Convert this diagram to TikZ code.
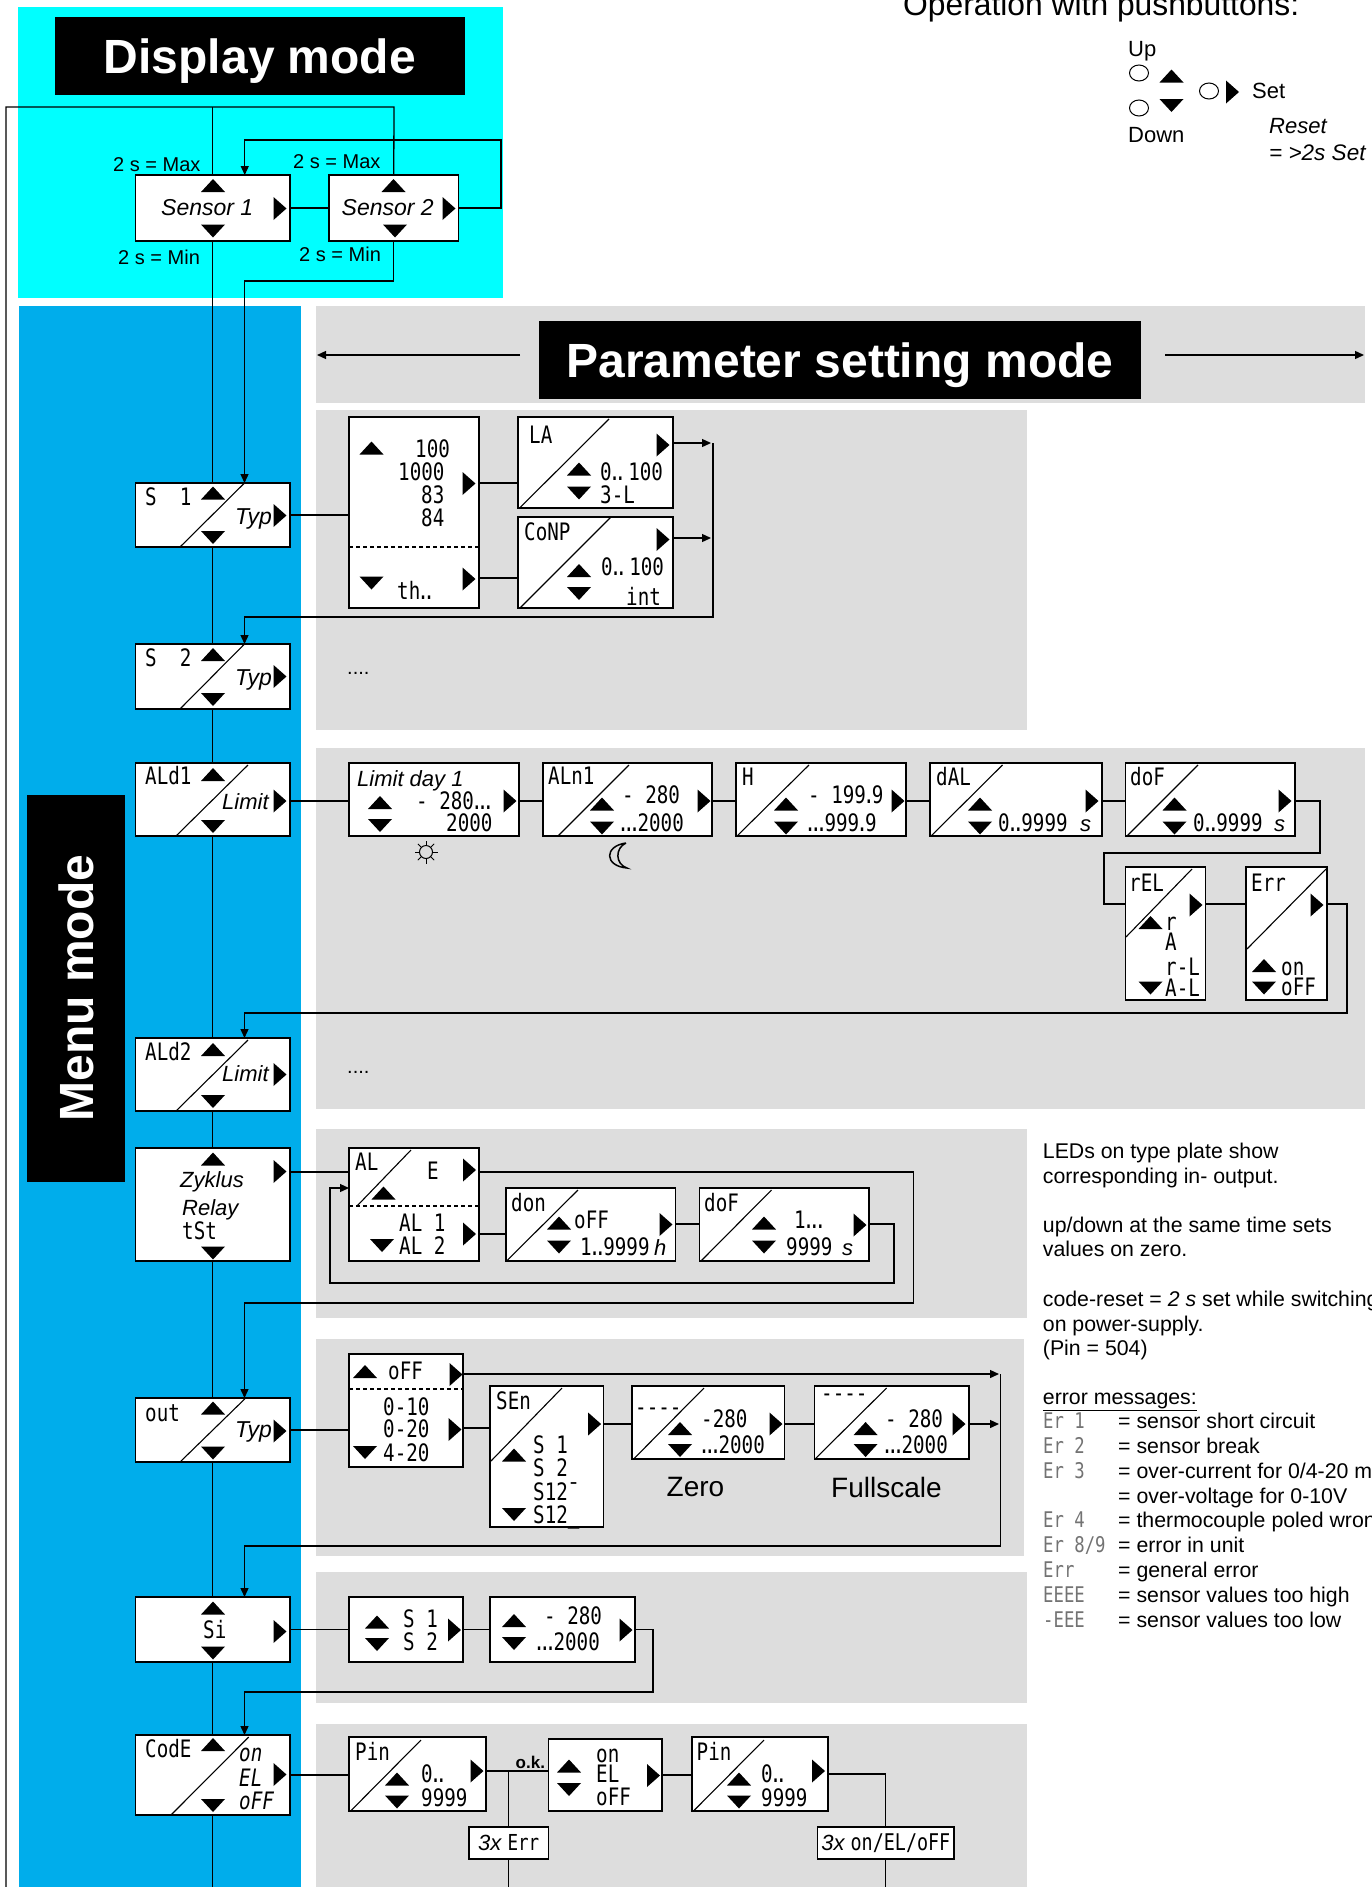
\documentclass[tikz,border=0pt]{standalone}
\usepackage{fontspec}
\setmainfont{Liberation Sans}
\newfontfamily\lcdfont[FakeStretch=0.8]{DejaVu Sans Mono}
\usetikzlibrary{arrows.meta,shapes.geometric}

\definecolor{displaycyan}{RGB}{0,255,255}
\definecolor{menublue}{RGB}{0,173,235}
\definecolor{panelgray}{RGB}{221,221,221}

\newcommand{\segdot}{\kern-.12em.\kern-.12em}
\newcommand{\dotb}{\segdot\segdot}
\newcommand{\dotc}{\segdot\segdot\segdot}
% box from its two corners, in pixels of the sheet
\newcommand{\rbox}[7][]{\node (#3) [#2, minimum width=#6-#4, minimum height=#7-#5] at ({(#4+#6)/2},{(#5+#7)/2}) {#1};}

\tikzset{
  area/.style={inner sep=0, outer sep=0, fill=#1},
  title/.style={inner sep=0, outer sep=0, fill=black, text=white, text height=34pt, text depth=0pt,
    font=\fontsize{48}{48}\selectfont\bfseries},
  disp/.style={draw, fill=white, line width=1.3pt, inner sep=0, outer sep=0},
  wire/.style={line width=1.3pt},
  tip/.style={-{Triangle[length=9pt,width=8pt]}},
  slash/.style={line width=1.1pt},
  sep/.style={line width=1.1pt, dash pattern=on 4pt off 3pt},
  lcd/.style={anchor=west, inner sep=0, text height=17.5pt, text depth=0pt,
    font=\fontsize{24}{24}\lcdfont},
  lcdi/.style={lcd, font=\fontsize{24}{24}\lcdfont\itshape},
  lcdg/.style={anchor=west, inner sep=0, text=black!55, text height=15.5pt, text depth=0pt,
    font=\fontsize{21.6}{22}\lcdfont},
  ital/.style={anchor=west, inner sep=0, text height=16pt, text depth=0pt,
    font=\fontsize{22}{22}\selectfont\itshape},
  lbl/.style={anchor=west, inner sep=0, text height=14.5pt, text depth=0pt,
    font=\fontsize{20}{20}\selectfont},
  txt/.style={anchor=west, inner sep=0, text height=15.5pt, text depth=0pt,
    font=\fontsize{21.3}{22}\selectfont},
  led/.style={draw, ellipse, line width=1pt, minimum width=19, minimum height=16, inner sep=0},
  keyup/.pic={\fill (-12,6.5) -- (12,6.5) -- (0,-6.5) -- cycle;},
  keydn/.pic={\fill (-12,-6.5) -- (12,-6.5) -- (0,6.5) -- cycle;},
  keyset/.pic={\fill (-6.5,-11.5) -- (6.5,0) -- (-6.5,11.5) -- cycle;},
  sun/.pic={\draw [line width=1pt] (0,0) circle (6.5);
    \foreach \a in {0,45,...,315} \draw [line width=1pt] (\a:7) -- (\a:11.5);},
  moon/.pic={\draw [line width=1.5pt] (8,-12) .. controls (-14,-9) and (-14,11) .. (9,13)
    .. controls (-3,9) and (-3,-7) .. (8,-12);}
}

\begin{document}
\begin{tikzpicture}[x=1pt,y=-1pt]
  \useasboundingbox (0,0) rectangle (1372,1887);
  \clip (0,0) rectangle (1372,1887);

  % areas
  \rbox{area=displaycyan}{adisp}{18}{7}{503}{298}
  \rbox{area=menublue}{amenu}{19}{306}{301}{1887}
  \rbox{area=panelgray}{ahead}{316}{306}{1365}{403}
  \rbox{area=panelgray}{apa}{316}{410}{1027}{730}
  \rbox{area=panelgray}{apb}{316}{748}{1365}{1109}
  \rbox{area=panelgray}{apc}{316}{1129}{1027}{1318}
  \rbox{area=panelgray}{apd}{316}{1339}{1024}{1556}
  \rbox{area=panelgray}{ape}{316}{1572}{1027}{1703}
  \rbox{area=panelgray}{apf}{316}{1724}{1027}{1887}
  \rbox[Display mode]{title}{tdisp}{55}{17}{465}{95}
  \rbox[Parameter setting mode]{title}{tpar}{539}{321}{1141}{399}
  \rbox{title}{tmenu}{27}{795}{125}{1182}
  \node (tmenut) [title, fill=none, rotate=90] at (76,988) {Menu mode};

  % push buttons
  \node (opt) [anchor=west, inner sep=0, font=\fontsize{31.8}{32}\selectfont] at (903,7) {Operation with pushbuttons:};
  \node (upt) [ital, font=\fontsize{22}{22}\selectfont] at (1128,48) {Up};
  \node (dnt) [ital, font=\fontsize{22}{22}\selectfont] at (1128,134) {Down};
  \node (sett) [ital, font=\fontsize{22}{22}\selectfont] at (1252,90) {Set};
  \node (rst) [ital] at (1269,125) {Reset};
  \node (rsu) [ital, font=\fontsize{22.5}{22}\selectfont\itshape] at (1269,152) {= >2s Set};
  \node (leda) [led] at (1139,73) {};
  \node (ledb) [led] at (1139,108) {};
  \node (ledc) [led] at (1209,91) {};
  \pic at (1171.5,76) {keyup};
  \pic at (1171.5,105.5) {keydn};
  \pic at (1232.5,92) {keyset};

  % display mode
  \rbox{disp}{sa}{135.5}{175}{290}{241}
  \rbox{disp}{sb}{329}{175}{458.5}{241}
  \node (sat) [ital, font=\fontsize{23}{23}\selectfont\itshape] at (161,207) {Sensor 1};
  \node (sbt) [ital, font=\fontsize{23}{23}\selectfont\itshape] at (341.5,207) {Sensor 2};
  \pic at (213,185.5) {keyup};
  \pic at (213,231) {keydn};
  \pic at (280,208.5) {keyset};
  \pic at (393.5,185.5) {keyup};
  \pic at (395,231) {keydn};
  \pic at (449,208.5) {keyset};
  \node (mxa) [lbl] at (113,164) {2 s = Max};
  \node (mxb) [lbl] at (293,161) {2 s = Max};
  \node (mna) [lbl] at (118,257) {2 s = Min};
  \node (mnb) [lbl] at (299,254) {2 s = Min};

  % menu column
  \rbox{disp}{ms}{135.5}{483}{290}{547}
  \draw [slash] (180,547) -- (244.5,483);
  \node (mst) [lcd] at (145,497) {S~~1};
  \node (msl) [ital, font=\fontsize{23}{23}\selectfont\itshape] at (235,516) {Typ};
  \pic at (213,493) {keyup};
  \pic at (213,537.5) {keydn};
  \pic at (280,515.5) {keyset};

  \rbox{disp}{mt}{135.5}{644}{290}{709}
  \draw [slash] (180,709) -- (244.5,644);
  \node (mtt) [lcd] at (145,658) {S~~2};
  \node (mtl) [ital, font=\fontsize{23}{23}\selectfont\itshape] at (235,677) {Typ};
  \pic at (213,654.5) {keyup};
  \pic at (213,699.5) {keydn};
  \pic at (280,676.5) {keyset};

  \rbox{disp}{mla}{135.5}{763}{290}{836}
  \draw [slash] (176,836) -- (248,765);
  \node (mlat) [lcd] at (145,776) {ALd1};
  \node (mlal) [ital] at (222,801) {Limit};
  \pic at (213,774.5) {keyup};
  \pic at (213,826.5) {keydn};
  \pic at (280,801) {keyset};

  \rbox{disp}{mlb}{135.5}{1038}{290}{1111}
  \draw [slash] (176,1111) -- (248,1040);
  \node (mlbt) [lcd] at (145,1052) {ALd2};
  \node (mlbl) [ital] at (222,1073) {Limit};
  \pic at (213,1049.5) {keyup};
  \pic at (213,1101.5) {keydn};
  \pic at (280,1074.5) {keyset};

  \rbox{disp}{mz}{135.5}{1148}{290}{1261}
  \node (mza) [ital] at (180,1179) {Zyklus};
  \node (mzb) [ital] at (182,1207) {Relay};
  \node (mzc) [lcd] at (182,1231) {tSt};
  \pic at (213,1159) {keyup};
  \pic at (213,1253) {keydn};
  \pic at (280,1171.5) {keyset};

  \rbox{disp}{mo}{135.5}{1398}{290}{1462}
  \draw [slash] (180,1462) -- (245.7,1398);
  \node (mot) [lcd] at (145,1413) {out};
  \node (mol) [ital, font=\fontsize{23}{23}\selectfont\itshape] at (235,1429) {Typ};
  \pic at (213,1408) {keyup};
  \pic at (213,1453) {keydn};
  \pic at (280,1431) {keyset};

  \rbox{disp}{mi}{135.5}{1597}{290}{1662}
  \node (mit) [lcd] at (203,1630) {Si};
  \pic at (213,1608) {keyup};
  \pic at (213,1653) {keydn};
  \pic at (280,1631.5) {keyset};

  \rbox{disp}{mc}{135.5}{1735}{290}{1815}
  \draw [slash] (171,1815) -- (248.7,1737);
  \node (mct) [lcd] at (145,1749) {CodE};
  \node (mca) [lcdi] at (239,1753) {on};
  \node (mcb) [lcdi] at (239,1778) {EL};
  \node (mcc) [lcdi] at (239,1801) {oFF};
  \pic at (213,1744.5) {keyup};
  \pic at (213,1805.5) {keydn};
  \pic at (280,1774.5) {keyset};

  % sensor panel
  \rbox{disp}{pty}{349}{417}{479}{608}
  \draw [sep] (349,547) -- (479,547);
  \node (ptya) [lcd] at (415,449) {100};
  \node (ptyb) [lcd] at (398,472) {1000};
  \node (ptyc) [lcd] at (421,495) {83};
  \node (ptyd) [lcd] at (421,518) {84};
  \node (ptye) [lcd] at (397,591) {th\dotb};
  \pic at (371.5,448) {keyup};
  \pic at (371.5,583) {keydn};
  \pic at (469,483.5) {keyset};
  \pic at (469,579) {keyset};

  \rbox{disp}{pla}{518}{417}{673}{508}
  \draw [slash] (519.6,508) -- (609,419);
  \node (plat) [lcd] at (529,435) {LA};
  \node (plaa) [lcd] at (600,472) {0\dotb\kern5pt 100};
  \node (plab) [lcd] at (600,495) {3-L};
  \pic at (579,469) {keyup};
  \pic at (579,493) {keydn};
  \pic at (663,445) {keyset};

  \rbox{disp}{pcp}{518}{517}{673}{608}
  \draw [slash] (520,608) -- (611,517);
  \node (pcpt) [lcd] at (524,532) {CoNP};
  \node (pcpa) [lcd] at (601,567) {0\dotb\kern5pt 100};
  \node (pcpb) [lcd] at (626,597) {int};
  \pic at (579,570.5) {keyup};
  \pic at (579,593.5) {keydn};
  \pic at (663,539.5) {keyset};
  \node (dta) [anchor=base west, inner sep=0, font=\fontsize{20}{20}\selectfont] at (347,674) {....};

  % limit panel
  \rbox{disp}{pld}{349}{763}{519}{836}
  \node (pldt) [ital] at (357,778) {Limit day 1};
  \node (plda) [lcd] at (416,801) {-~280\dotc};
  \node (pldb) [lcd] at (446,823) {2000};
  \pic at (380,802.5) {keyup};
  \pic at (380,825.5) {keydn};
  \pic at (510,801) {keyset};
  \pic at (426,852) {sun};
  \pic at (618,855) {moon};

  \rbox{disp}{pln}{543}{763}{712}{836}
  \draw [slash] (558,836) -- (629,765);
  \node (plnt) [lcd] at (548,776) {ALn1};
  \node (plna) [lcd] at (622,795) {-~280};
  \node (plnb) [lcd] at (620,823) {\dotc 2000};
  \pic at (602,804) {keyup};
  \pic at (602,828) {keydn};
  \pic at (704,801) {keyset};

  \rbox{disp}{phy}{736}{763}{906}{836}
  \draw [slash] (737,836) -- (809,765);
  \node (phyt) [lcd] at (742,777) {H};
  \node (phya) [lcd] at (808,795) {-~199\segdot 9};
  \node (phyb) [lcd] at (807,823) {\dotc 999\segdot 9};
  \pic at (786,804) {keyup};
  \pic at (786,828) {keydn};
  \pic at (898,801) {keyset};

  \rbox{disp}{pda}{930}{763}{1102}{836}
  \draw [slash] (931,836) -- (1002.5,765);
  \node (pdat) [lcd] at (936,777) {dAL};
  \node (pdaa) [lcd] at (998,823) {0\dotb 9999};
  \node (pdas) [ital] at (1080,823) {s};
  \pic at (980,804) {keyup};
  \pic at (980,828) {keydn};
  \pic at (1092,801) {keyset};

  \rbox{disp}{pdo}{1125.5}{763}{1295}{836}
  \draw [slash] (1127,836) -- (1198,765);
  \node (pdot) [lcd] at (1130,777) {doF};
  \node (pdoa) [lcd] at (1193,823) {0\dotb 9999};
  \node (pdos) [ital] at (1274,823) {s};
  \pic at (1174.5,804) {keyup};
  \pic at (1174.5,828) {keydn};
  \pic at (1285,801) {keyset};

  \rbox{disp}{pre}{1125.5}{867}{1205.5}{1000}
  \draw [slash] (1126,937) -- (1192,869);
  \node (pret) [lcd] at (1129,883) {rEL};
  \node (prea) [lcd] at (1165,922) {r};
  \node (preb) [lcd] at (1165,942) {A};
  \node (prec) [lcd] at (1165,967) {r-L};
  \node (pred) [lcd] at (1165,988) {A-L};
  \pic at (1150.5,922.5) {keyup};
  \pic at (1150.5,988) {keydn};
  \pic at (1196,905) {keyset};

  \rbox{disp}{per}{1246}{867}{1327}{1000}
  \draw [slash] (1247,949) -- (1326,869);
  \node (pert) [lcd] at (1251,883) {Err};
  \node (pera) [lcd] at (1281,967) {on};
  \node (perb) [lcd] at (1281,987) {oFF};
  \pic at (1264,965.5) {keyup};
  \pic at (1264,988) {keydn};
  \pic at (1317,905) {keyset};
  \node (dtb) [anchor=base west, inner sep=0, font=\fontsize{20}{20}\selectfont] at (347,1073) {....};

  % relay panel
  \rbox{disp}{pal}{349}{1148}{479}{1261}
  \draw [slash] (357,1206) -- (411,1150);
  \draw [sep] (349,1206) -- (479,1206);
  \node (palt) [lcd] at (355,1162) {AL};
  \node (pale) [lcd] at (427,1171) {E};
  \node (pala) [lcd] at (399,1223) {AL~1};
  \node (palb) [lcd] at (399,1246) {AL~2};
  \pic at (383.5,1193) {keyup};
  \pic at (382,1245.5) {keydn};
  \pic at (469.5,1170) {keyset};
  \pic at (469.5,1234) {keyset};

  \rbox{disp}{pon}{506}{1188}{675.5}{1261}
  \draw [slash] (506.5,1261) -- (578,1190);
  \node (pont) [lcd] at (511,1203) {don};
  \node (pona) [lcd] at (574,1220) {oFF};
  \node (ponb) [lcd] at (580,1247) {1\dotb 9999};
  \node (ponh) [ital] at (654,1247) {h};
  \pic at (559,1223) {keyup};
  \pic at (559,1247) {keydn};
  \pic at (666,1224.5) {keyset};

  \rbox{disp}{pof}{699.5}{1188}{869}{1261}
  \draw [slash] (701,1261) -- (771.5,1190);
  \node (poft) [lcd] at (704,1203) {doF};
  \node (pofa) [lcd] at (794,1220) {1\dotc};
  \node (pofb) [lcd] at (786,1247) {9999};
  \node (pofs) [ital] at (842,1247) {s};
  \pic at (764,1223) {keyup};
  \pic at (764,1247) {keydn};
  \pic at (860,1225) {keyset};

  % output panel
  \rbox{disp}{pou}{349}{1354}{463}{1467}
  \draw [sep] (349,1389) -- (463,1389);
  \node (poua) [lcd] at (388,1371) {oFF};
  \node (poub) [lcd] at (383,1407) {0-10};
  \node (pouc) [lcd] at (383,1429) {0-20};
  \node (poud) [lcd] at (383,1453) {4-20};
  \pic at (365,1371.5) {keyup};
  \pic at (365,1452.5) {keydn};
  \pic at (456,1374.5) {keyset};
  \pic at (455,1429.5) {keyset};

  \rbox{disp}{pse}{490}{1386}{603.6}{1527}
  \draw [slash] (491,1461) -- (562,1388);
  \node (pset) [lcd] at (496,1401) {SEn};
  \node (psea) [lcd] at (533,1445) {S~1};
  \node (pseb) [lcd] at (533,1468) {S~2};
  \node (psec) [lcd] at (533,1492) {S12¯};
  \node (psed) [lcd] at (533,1515) {S12\_};
  \pic at (514,1455) {keyup};
  \pic at (514,1514.5) {keydn};
  \pic at (594.6,1424) {keyset};

  \rbox{disp}{pze}{632}{1386}{784.6}{1459}
  \draw [slash] (633.6,1459) -- (704,1388);
  \node (pzet) [lcd] at (635,1407) {----};
  \node (pzea) [lcd] at (701,1419) {-280};
  \node (pzeb) [lcd] at (701,1445) {\dotc 2000};
  \pic at (680,1428.5) {keyup};
  \pic at (680,1450.5) {keydn};
  \pic at (776,1424) {keyset};
  \node (pzel) [anchor=west, inner sep=0, font=\fontsize{28}{28}\selectfont] at (666.5,1487) {Zero};

  \rbox{disp}{pfu}{814.6}{1386}{969}{1459}
  \draw [slash] (815,1459) -- (886.6,1388);
  \node (pfut) [lcd] at (821,1393) {----};
  \node (pfua) [lcd] at (885,1419) {-~280};
  \node (pfub) [lcd] at (884,1445) {\dotc 2000};
  \pic at (865.6,1428.5) {keyup};
  \pic at (865.6,1450.5) {keydn};
  \pic at (959,1424) {keyset};
  \node (pful) [anchor=west, inner sep=0, font=\fontsize{28}{28}\selectfont] at (831,1487) {Fullscale};

  % simulation panel
  \rbox{disp}{psi}{349}{1597}{463}{1662}
  \node (psia) [lcd] at (403,1619) {S~1};
  \node (psib) [lcd] at (403,1642) {S~2};
  \pic at (377,1622) {keyup};
  \pic at (377,1644.5) {keydn};
  \pic at (454.5,1630) {keyset};

  \rbox{disp}{prg}{490}{1597}{635}{1662}
  \node (prga) [lcd] at (544,1616) {-~280};
  \node (prgb) [lcd] at (536,1642) {\dotc 2000};
  \pic at (514,1620.5) {keyup};
  \pic at (514,1643.5) {keydn};
  \pic at (626,1630) {keyset};

  % code panel
  \rbox{disp}{ppa}{349}{1737}{486}{1811}
  \draw [slash] (350.6,1811) -- (421,1740);
  \node (ppat) [lcd] at (355,1752) {Pin};
  \node (ppaa) [lcd] at (421,1774) {0\dotb};
  \node (ppab) [lcd] at (421,1798) {9999};
  \pic at (397,1779) {keyup};
  \pic at (397,1802) {keydn};
  \pic at (477,1771) {keyset};

  \rbox{disp}{pcd}{548.5}{1739}{662}{1811}
  \node (pcda) [lcd] at (596,1754) {on};
  \node (pcdb) [lcd] at (596,1774) {EL};
  \node (pcdc) [lcd] at (596,1797) {oFF};
  \pic at (569,1766) {keyup};
  \pic at (569,1789.5) {keydn};
  \pic at (653.5,1775.5) {keyset};

  \rbox{disp}{ppb}{692}{1737}{828}{1811}
  \draw [slash] (693.5,1811) -- (764,1740);
  \node (ppbt) [lcd] at (696.5,1752) {Pin};
  \node (ppba) [lcd] at (761,1774) {0\dotb};
  \node (ppbb) [lcd] at (761,1798) {9999};
  \pic at (739,1779) {keyup};
  \pic at (739,1802) {keydn};
  \pic at (818.5,1771) {keyset};

  \rbox[\fontsize{22}{22}\selectfont\itshape 3x \upshape\lcdfont Err]{disp}{pxa}{469}{1827}{548.5}{1859}
  \rbox[\fontsize{22}{22}\selectfont\itshape 3x \fontsize{23}{23}\upshape\lcdfont on/EL/oFF]{disp}{pxb}{817.6}{1827}{954}{1859}
  \node (okt) [anchor=west, inner sep=0, font=\fontsize{17}{17}\selectfont\bfseries] at (515.5,1762) {o.k.};

  % connector corners
  \coordinate (tl) at (6,1887);
  \coordinate (tp) at (394,107);
  \coordinate (ca) at (501,140);
  \coordinate (cb) at (244.5,281);
  \coordinate (ja) at (479,483);
  \coordinate (jb) at (479,578);
  \coordinate (jc) at (711,443);
  \coordinate (jd) at (711,538);
  \coordinate (je) at (713,443);
  \coordinate (jf) at (244.5,617);
  \coordinate (jg) at (290,801);
  \coordinate (jh) at (1320,853);
  \coordinate (ji) at (1104,904);
  \coordinate (jk) at (1347,1013);
  \coordinate (jl) at (244.5,1013);
  \coordinate (jm) at (290,1172);
  \coordinate (jn) at (913.5,1303);
  \coordinate (jo) at (244.5,1303);
  \coordinate (jp) at (479,1234);
  \coordinate (jq) at (675.5,1224);
  \coordinate (jr) at (894,1283);
  \coordinate (js) at (330,1188);
  \coordinate (jt) at (463,1374);
  \coordinate (ju) at (999,1374);
  \coordinate (jv) at (463,1428);
  \coordinate (jw) at (603.6,1424);
  \coordinate (jy) at (1000.5,1374);
  \coordinate (jz) at (244.5,1546);
  \coordinate (ka) at (653,1692);
  \coordinate (kb) at (244.5,1692);
  \coordinate (kc) at (486,1771);
  \coordinate (kd) at (508.75,1887);
  \coordinate (kf) at (885.8,1887);
  \coordinate (kg) at (212.75,1887);

  % main line
  \draw [wire] (tl) |- (tp) -- (sb.north);
  \draw [wire] (sa.north |- tp) -- (sa.north);
  \draw [wire] (sa.south) -- (ms.north);
  \draw [wire] (ms.south) -- (mt.north);
  \draw [wire] (mt.south) -- (mla.north);
  \draw [wire] (mla.south) -- (mlb.north);
  \draw [wire] (mlb.south) -- (mz.north);
  \draw [wire] (mz.south) -- (mo.north);
  \draw [wire] (mo.south) -- (mi.north);
  \draw [wire] (mi.south) -- (mc.north);
  \draw [wire] (mc.south) -- (kg);

  \draw [wire] (sa.east) -- (sb.west);
  \draw [wire, tip] (sb.east) -| (ca) -| ([xshift=32]sa.north);
  \draw [wire, tip] (sb.south) |- (cb) -- (cb |- ms.north);

  \draw [wire] (ms.east) -- (ms.east -| pty.west);
  \draw [wire] (ja) -- (ja -| pla.west);
  \draw [wire] (jb) -- (jb -| pcp.west);
  \draw [wire, tip] (pla.east |- jc) -- (jc);
  \draw [wire, tip] (pcp.east |- jd) -- (jd);
  \draw [wire, tip] (je) |- (jf) -- (jf |- mt.north);

  \draw [wire] (jg) -- (jg -| pld.west);
  \draw [wire] (jg -| pld.east) -- (jg -| pln.west);
  \draw [wire] (jg -| pln.east) -- (jg -| phy.west);
  \draw [wire] (jg -| phy.east) -- (jg -| pda.west);
  \draw [wire] (jg -| pda.east) -- (jg -| pdo.west);
  \draw [wire] (jg -| pdo.east) -| (jh) -| (ji) -- (ji -| pre.west);
  \draw [wire] (ji -| pre.east) -- (ji -| per.west);
  \draw [wire, tip] (ji -| per.east) -| (jk) -- (jl) -- (jl |- mlb.north);

  \draw [wire] (jm) -- (jm -| pal.west);
  \draw [wire, tip] (jm -| pal.east) -| (jn) -- (jo) -- (jo |- mo.north);
  \draw [wire] (jp) -- (jp -| pon.west);
  \draw [wire] (jq) -- (jq -| pof.west);
  \draw [wire, tip] (jq -| pof.east) -| (jr) -| (js) -- (js -| pal.west);

  \draw [wire] (mo.east) -- (mo.east -| pou.west);
  \draw [wire, tip] (jt) -- (ju);
  \draw [wire] (jv) -- (jv -| pse.west);
  \draw [wire] (jw) -- (jw -| pze.west);
  \draw [wire] (jw -| pze.east) -- (jw -| pfu.west);
  \draw [wire, tip] (jw -| pfu.east) -- (jw -| ju);
  \draw [wire, tip] (jy) |- (jz) -- (jz |- mi.north);

  \draw [wire] (mi.east) -- (mi.east -| psi.west);
  \draw [wire] (psi.east) -- (prg.west);
  \draw [wire, tip] (prg.east) -| (ka) -- (kb) -- (kb |- mc.north);

  \draw [wire] (mc.east) -- (mc.east -| ppa.west);
  \draw [wire] (kc) -- (kc -| pcd.west);
  \draw [wire] (pxa.north |- kc) -- (pxa.north);
  \draw [wire] (pxa.south) -- (kd);
  \draw [wire] (pcd.east) -- (pcd.east -| ppb.west);
  \draw [wire] (ppb.east) -| (pxb.north);
  \draw [wire] (pxb.south) -- (kf);

  % header arrows
  \coordinate (ha) at (520,355);
  \coordinate (hb) at (317,355);
  \coordinate (hc) at (1165,355);
  \coordinate (hd) at (1364,355);
  \draw [wire, tip] (ha) -- (hb);
  \draw [wire, tip] (hc) -- (hd);

  % notes
  \node (nta) [txt] at (1042.7,1151) {LEDs on type plate show};
  \node (ntb) [txt] at (1042.7,1176) {corresponding in- output.};
  \node (ntc) [txt] at (1042.7,1225) {up/down at the same time sets};
  \node (ntd) [txt] at (1042.7,1249) {values on zero.};
  \node (nte) [txt] at (1042.7,1299) {code-reset = {\itshape 2 s} set while switching};
  \node (ntf) [txt] at (1042.7,1324) {on power-supply.};
  \node (ntg) [txt] at (1042.7,1348) {(Pin = 504)};
  \node (nth) [txt] at (1042.7,1397) {\underline{error messages:}};
  \node (era) [lcdg] at (1043,1421) {Er~1};
  \node (erb) [lcdg] at (1043,1446) {Er~2};
  \node (erc) [lcdg] at (1043,1471) {Er~3};
  \node (erd) [lcdg] at (1043,1520) {Er~4};
  \node (ere) [lcdg] at (1043,1545) {Er~8/9};
  \node (erf) [lcdg] at (1043,1570) {Err};
  \node (erg) [lcdg] at (1043,1595) {EEEE};
  \node (erh) [lcdg] at (1043,1620) {-EEE};
  \node (ema) [txt] at (1118,1421) {= sensor short circuit};
  \node (emb) [txt] at (1118,1446) {= sensor break};
  \node (emc) [txt] at (1118,1471) {= over-current for 0/4-20 mA};
  \node (emd) [txt] at (1118,1496) {= over-voltage for 0-10V};
  \node (eme) [txt] at (1118,1520) {= thermocouple poled wrong};
  \node (emf) [txt] at (1118,1545) {= error in unit};
  \node (emg) [txt] at (1118,1570) {= general error};
  \node (emh) [txt] at (1118,1595) {= sensor values too high};
  \node (emi) [txt] at (1118,1620) {= sensor values too low};

\end{tikzpicture}
\end{document}
